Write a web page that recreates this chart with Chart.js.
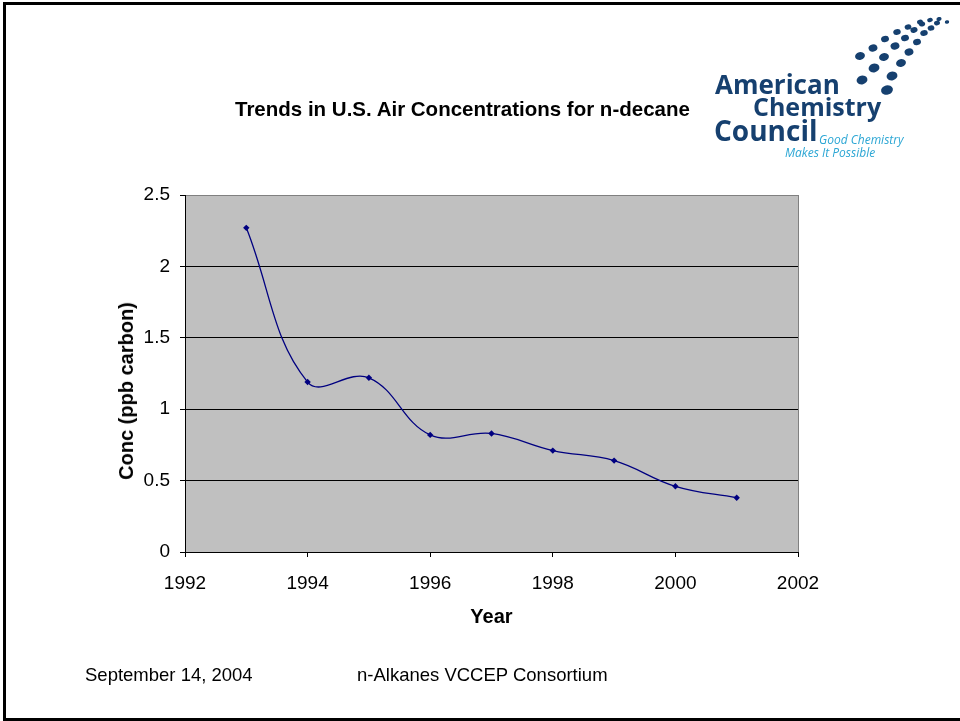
<!DOCTYPE html>
<html>
<head>
<meta charset="utf-8">
<script src="https://cdn.jsdelivr.net/npm/chart.js@4/dist/chart.umd.min.js"></script>
<style>
  html, body { margin: 0; padding: 0; background: #fff; }
  #page { position: relative; width: 960px; height: 721px; overflow: hidden; }
  #frame { position: absolute; left: 3px; top: 2px; width: 1000px; height: 713px; border: 3px solid #000; }
  #chart { position: absolute; left: 0; top: 0; }
  .txt { position: absolute; white-space: nowrap; line-height: 1; }
  .arial { font-family: "Liberation Sans", Arial, sans-serif; color: #000; }
  .logo { font-family: "Open Sans", "Noto Sans", sans-serif; color: #16406f; font-weight: 700; }
  .tag { font-family: "Open Sans", "Noto Sans", sans-serif; color: #2ba6d4; font-style: italic; }
  #ytitle { left: 126px; top: 391px; font-size: 20px; font-weight: bold;
            transform: translate(-50%, -50%) rotate(-90deg); }
</style>
</head>
<body>
<div id="page">
  <div id="frame"></div>
  <canvas id="chart" width="960" height="721"></canvas>

  <div class="txt arial" style="left:235px; top:99px; font-size:20.5px; font-weight:bold;">Trends in U.S. Air Concentrations for n-decane</div>
  <div id="ytitle" class="txt arial"></div>

  <div class="txt logo" style="left:715px; top:71px; font-size:26px;">American</div>
  <div class="txt logo" style="left:753px; top:94px; font-size:25px;">Chemistry</div>
  <div class="txt logo" style="left:714px; top:116px; font-size:28px;">Council</div>
  <div class="txt tag" style="left:819px; top:134px; font-size:12px;">Good Chemistry</div>
  <div class="txt tag" style="left:785px; top:147px; font-size:12px;">Makes It Possible</div>

  <div class="txt arial" style="left:85px; top:666px; font-size:18.5px;">September 14, 2004</div>
  <div class="txt arial" style="left:357px; top:666px; font-size:18.5px;">n-Alkanes VCCEP Consortium</div>
</div>

<script>
// ── Data ─────────────────────────────────────────────────
const years = [1993, 1994, 1995, 1996, 1997, 1998, 1999, 2000, 2001];
const conc  = [2.27, 1.19, 1.22, 0.82, 0.83, 0.71, 0.64, 0.46, 0.38];

const xLabel = "Year";
const yLabel = "Conc (ppb carbon)";
document.getElementById("ytitle").textContent = yLabel;

// logo dots: [x, y, r]
const logoDots = [
  [887, 90, 6], [862, 80, 5.5], [892, 76, 5.5], [874, 68, 5.5],
  [901, 63, 5], [860, 56, 5], [884, 57, 5], [909, 52, 4.5],
  [873, 48, 4.5], [895, 46, 4.5], [917, 42, 4], [885, 39, 4],
  [905, 38, 4], [924, 33, 3.8], [897, 32, 3.8], [914, 30, 3.6],
  [931, 28, 3.4], [908, 27, 3.4], [922, 24, 3.2], [937, 23, 3],
  [920, 22, 3], [930, 20, 2.8], [939, 19, 2.6], [947, 22, 2.2]
];

// ── Plugins ──────────────────────────────────────────────
const plotArea = {
  id: "plotArea",
  beforeDraw(chart) {
    const { ctx, chartArea: a } = chart;
    ctx.save();
    ctx.fillStyle = "#c0c0c0";
    ctx.fillRect(a.left, a.top, a.right - a.left, a.bottom - a.top);
    ctx.strokeStyle = "#808080";
    ctx.lineWidth = 1;
    ctx.beginPath();
    ctx.moveTo(a.right + 0.5, a.top);
    ctx.lineTo(a.right + 0.5, a.bottom);
    ctx.stroke();
    ctx.restore();
  },
  afterDraw(chart) {
    const ctx = chart.ctx;
    ctx.save();
    ctx.fillStyle = "#16406f";
    for (const [x, y, r] of logoDots) {
      ctx.beginPath();
      ctx.ellipse(x, y, r, r * 0.78, -0.25, 0, Math.PI * 2);
      ctx.fill();
    }
    ctx.restore();
  }
};

const tickFont = { family: "'Liberation Sans', Arial, sans-serif", size: 19 };
const titleFont = { family: "'Liberation Sans', Arial, sans-serif", size: 20, weight: "bold" };

new Chart(document.getElementById("chart"), {
  type: "line",
  data: {
    datasets: [{
      label: "n-decane",
      data: years.map((y, i) => ({ x: y, y: conc[i] })),
      borderColor: "#000080",
      backgroundColor: "#000080",
      borderWidth: 1.3,
      tension: 0.4,
      pointStyle: "rectRot",
      pointRadius: 3.2,
      pointBorderWidth: 0,
      fill: false
    }]
  },
  options: {
    responsive: false,
    animation: false,
    devicePixelRatio: 1,
    layout: { padding: { left: 114, top: 195, right: 162, bottom: 92 } },
    plugins: {
      legend: { display: false },
      tooltip: { enabled: false }
    },
    scales: {
      x: {
        type: "linear",
        min: 1992,
        max: 2002,
        afterFit: s => { s.height = 77; },
        ticks: { stepSize: 2, color: "#000", font: tickFont, padding: 15, maxRotation: 0,
                 callback: v => String(v) },
        grid: { drawOnChartArea: false, color: "#000", tickLength: 5 },
        border: { color: "#000" },
        title: { display: true, text: xLabel, color: "#000", font: titleFont, padding: 0 }
      },
      y: {
        min: 0,
        max: 2.5,
        afterFit: s => { s.width = 71; },
        ticks: { stepSize: 0.5, color: "#000", font: tickFont, padding: 10,
                 callback: v => String(v) },
        grid: {
          color: c => (c.tick && c.tick.value === 2.5 ? "#808080" : "#000"),
          tickColor: "#000",
          tickLength: 5
        },
        border: { color: "#000" }
      }
    }
  },
  plugins: [plotArea]
});
</script>
</body>
</html>
